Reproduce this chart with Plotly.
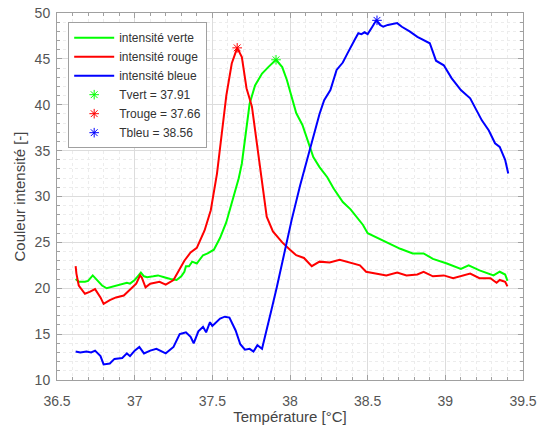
import plotly.graph_objects as go

# Temperature (°C) / intensity samples for each colour channel
t_vert = [36.62, 36.64, 36.68, 36.70, 36.73, 36.76, 36.79, 36.82, 36.86, 36.90, 36.93, 36.95, 36.97,
          37.00, 37.02, 37.04, 37.06, 37.08, 37.12, 37.15, 37.19, 37.23, 37.27, 37.30, 37.32, 37.33,
          37.35, 37.37, 37.40, 37.44, 37.47, 37.51, 37.55, 37.59, 37.635, 37.67, 37.69, 37.72,
          37.74, 37.775, 37.82, 37.86, 37.91, 37.95, 37.98, 38.01, 38.04, 38.08, 38.12, 38.15,
          38.19, 38.24, 38.28, 38.34, 38.39, 38.43, 38.47, 38.50, 38.55, 38.62, 38.71, 38.79,
          38.86, 38.92, 39.01, 39.10, 39.15, 39.22, 39.31, 39.35, 39.37, 39.385, 39.40]
v_vert = [21.0, 20.7, 20.7, 20.8, 21.4, 20.8, 20.3, 20.0, 20.2, 20.4, 20.5, 20.6, 20.5,
          20.9, 21.3, 21.7, 21.3, 21.2, 21.3, 21.4, 21.2, 21.0, 20.9, 21.3, 21.8, 22.4,
          22.4, 22.9, 22.7, 23.6, 23.8, 24.2, 25.5, 27.2, 29.9, 32.0, 33.6, 37.2,
          40.1, 42.1, 43.4, 44.1, 44.9, 44.1, 42.7, 40.9, 39.1, 37.8, 35.8, 34.3,
          33.2, 32.1, 30.9, 29.4, 28.6, 27.8, 26.9, 26.0, 25.6, 25.05, 24.3, 23.8,
          23.8, 23.2, 22.7, 22.1, 22.5, 21.95, 21.4, 21.8, 21.6, 21.5, 20.8]

t_rouge = [36.62, 36.625, 36.64, 36.68, 36.71, 36.745, 36.78, 36.80, 36.84, 36.88, 36.93, 36.97,
           37.01, 37.035, 37.045, 37.07, 37.10, 37.16, 37.20, 37.25, 37.29, 37.32, 37.36, 37.40,
           37.45, 37.49, 37.53, 37.56, 37.59, 37.625, 37.66, 37.69, 37.72, 37.755, 37.79, 37.82,
           37.85, 37.89, 37.95, 38.00, 38.04, 38.09, 38.14, 38.19, 38.255, 38.32, 38.39, 38.45,
           38.49, 38.56, 38.62, 38.69, 38.75, 38.82, 38.86, 38.92, 38.99, 39.05, 39.10, 39.16,
           39.22, 39.29, 39.33, 39.35, 39.385, 39.40]
v_rouge = [22.4, 21.6, 20.3, 19.4, 19.6, 19.9, 19.0, 18.3, 18.7, 19.0, 19.2, 19.8,
           20.5, 21.4, 21.2, 20.1, 20.5, 20.7, 20.4, 20.9, 22.1, 23.0, 23.9, 24.4,
           26.3, 28.5, 32.5, 37.0, 41.0, 44.5, 46.2, 45.2, 41.8, 39.8, 35.4, 31.4,
           27.8, 26.2, 25.0, 24.2, 23.6, 23.3, 22.4, 22.9, 22.8, 23.1, 22.8, 22.5,
           21.8, 21.6, 21.4, 21.7, 21.4, 21.5, 21.8, 21.3, 21.4, 21.1, 21.3, 21.6,
           21.1, 21.1, 20.6, 20.9, 20.7, 20.2]

t_bleu = [36.62, 36.65, 36.69, 36.72, 36.745, 36.78, 36.80, 36.84, 36.87, 36.92, 36.95, 36.97,
          37.00, 37.03, 37.06, 37.10, 37.14, 37.20, 37.25, 37.29, 37.31, 37.33, 37.36, 37.38,
          37.41, 37.44, 37.46, 37.485, 37.50, 37.55, 37.58, 37.61, 37.65, 37.68, 37.71, 37.74,
          37.765, 37.79, 37.82, 37.85, 37.88, 37.915, 37.95, 37.98, 38.01, 38.065, 38.13,
          38.19, 38.22, 38.26, 38.30, 38.34, 38.37, 38.39, 38.42, 38.44, 38.46, 38.48, 38.50,
          38.53, 38.555, 38.58, 38.60, 38.63, 38.69, 38.72, 38.77, 38.82, 38.87, 38.90, 38.94,
          38.99, 39.04, 39.10, 39.16, 39.19, 39.235, 39.28, 39.32, 39.35, 39.385, 39.405]
v_bleu = [13.1, 13.0, 13.1, 13.0, 13.2, 12.6, 11.7, 11.8, 12.3, 12.4, 12.9, 12.6,
          13.2, 13.6, 12.9, 13.2, 13.4, 12.9, 13.6, 15.0, 15.1, 15.2, 14.7, 14.0,
          15.3, 15.8, 15.2, 16.3, 15.9, 16.7, 16.9, 16.8, 15.4, 13.9, 13.3, 13.4,
          13.1, 13.8, 13.4, 15.4, 17.6, 20.1, 22.8, 25.2, 27.4, 31.2, 35.2,
          39.0, 40.5, 41.6, 43.8, 44.6, 45.6, 46.3, 47.2, 47.8, 47.7, 47.9, 47.7,
          48.5, 49.2, 48.7, 48.5, 48.7, 48.9, 48.5, 48.0, 47.4, 47.0, 46.7, 44.8,
          44.3, 42.9, 41.6, 40.7, 39.8, 38.3, 37.2, 35.8, 35.4, 34.0, 32.5]

# Peak temperatures marked with asterisks
peak_labels = ["Tvert = 37.91", "Trouge = 37.66", "Tbleu = 38.56"]
peak_t = [37.91, 37.66, 38.56]
peak_v = [44.9, 46.2, 49.2]

series_names = ["intensité verte", "intensité rouge", "intensité bleue"]
colors = ["#00ff00", "#ff0000", "#0000ff"]

fig = go.Figure()
for name, t, v, c in zip(series_names, [t_vert, t_rouge, t_bleu], [v_vert, v_rouge, v_bleu], colors):
    fig.add_trace(go.Scatter(x=t, y=v, mode="lines", name=name,
                             line=dict(color=c, width=2)))
for lab, t, v, c in zip(peak_labels, peak_t, peak_v, colors):
    fig.add_trace(go.Scatter(x=[t], y=[v], mode="markers", name=lab,
                             marker=dict(symbol="asterisk-open", size=8, color=c,
                                         line=dict(color=c, width=1))))

axis_common = dict(
    showline=True, linecolor="#a0a0a0", linewidth=1, mirror="allticks",
    ticks="inside", ticklen=5, tickcolor="#a0a0a0",
    showgrid=True, gridcolor="#dcdcdc", gridwidth=1,
    zeroline=False, automargin=False,
    tickfont=dict(family="Liberation Sans, Arial", size=14, color="#555555"),
    title_font=dict(family="Liberation Sans, Arial", size=15, color="#444444"),
)

fig.update_layout(
    width=543, height=425,
    margin=dict(l=57, r=20, t=13, b=45),
    paper_bgcolor="white", plot_bgcolor="white",
    showlegend=True,
    legend=dict(x=0.024, y=0.975, xanchor="left", yanchor="top",
                bgcolor="white", bordercolor="#a0a0a0", borderwidth=1,
                font=dict(family="Liberation Sans, Arial", size=12, color="#333333"),
                tracegroupgap=0, itemwidth=40),
    xaxis=dict(range=[36.5, 39.5], dtick=0.5, tick0=36.5,
               ticklabelstandoff=8,
               title=dict(text="Température [°C]", standoff=0),
               minor=dict(dtick=0.1, showgrid=True, gridcolor="#ececec", griddash="dot",
                          ticks="inside", ticklen=3, tickcolor="#a0a0a0"),
               **axis_common),
    yaxis=dict(range=[10, 50], dtick=5,
               ticklabelstandoff=3,
               title=dict(text="Couleur intensité [-]", standoff=5),
               minor=dict(dtick=1, showgrid=True, gridcolor="#ececec", griddash="dot",
                          ticks="inside", ticklen=3, tickcolor="#a0a0a0"),
               **axis_common),
)

fig.write_html("out.html")
